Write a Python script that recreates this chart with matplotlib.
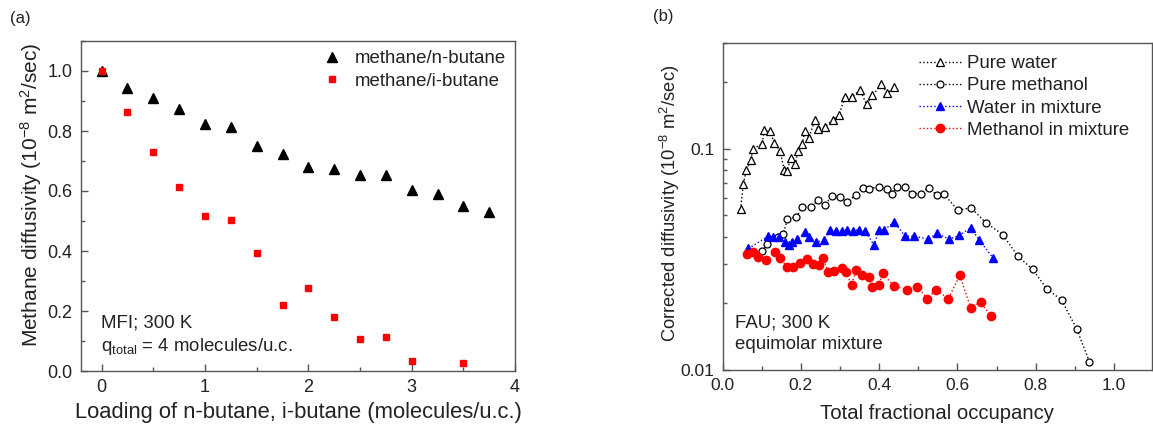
import numpy as np
import matplotlib.pyplot as plt
from matplotlib.ticker import MultipleLocator, LogLocator, NullFormatter, FixedLocator, FixedFormatter

plt.rcParams['font.family'] = ['Liberation Sans', 'DejaVu Sans']
plt.rcParams['mathtext.fontset'] = 'custom'
plt.rcParams['mathtext.rm'] = 'Liberation Sans'
plt.rcParams['mathtext.it'] = 'Liberation Sans'

TXT = '#222222'
FS = 13.4

# (a) MFI, methane diffusivity vs loading
load_n = [0, 0.25, 0.5, 0.75, 1.0, 1.25, 1.5, 1.75, 2.0, 2.25, 2.5, 2.75, 3.0, 3.25, 3.5, 3.75]
d_n = [1.0, 0.944, 0.911, 0.873, 0.823, 0.814, 0.750, 0.722, 0.679, 0.674, 0.652, 0.652,
       0.604, 0.590, 0.549, 0.529]
load_i = [0, 0.25, 0.5, 0.75, 1.0, 1.25, 1.5, 1.75, 2.0, 2.25, 2.5, 2.75, 3.0, 3.5]
d_i = [1.0, 0.865, 0.729, 0.612, 0.516, 0.504, 0.393, 0.219, 0.277, 0.179, 0.106, 0.113,
       0.035, 0.028]

# (b) FAU, corrected diffusivity vs fractional occupancy
occ_w = [0.046, 0.053, 0.061, 0.072, 0.078, 0.102, 0.106, 0.121, 0.132, 0.147, 0.158, 0.164,
         0.175, 0.185, 0.193, 0.204, 0.210, 0.221, 0.236, 0.243, 0.261, 0.283, 0.297, 0.313,
         0.331, 0.351, 0.368, 0.383, 0.406, 0.421, 0.439]
d_w = [0.0532, 0.069, 0.0798, 0.0886, 0.100, 0.1053, 0.121, 0.120, 0.1064, 0.0976, 0.0798, 0.079,
       0.0908, 0.0849, 0.0976, 0.1053, 0.120, 0.1121, 0.135, 0.123, 0.1253, 0.135, 0.1413, 0.171,
       0.171, 0.1846, 0.1585, 0.174, 0.195, 0.178, 0.1897]

occ_m = [0.102, 0.114, 0.142, 0.155, 0.166, 0.189, 0.204, 0.227, 0.244, 0.261, 0.279, 0.300,
         0.317, 0.340, 0.358, 0.374, 0.400, 0.419, 0.432, 0.445, 0.466, 0.483, 0.506, 0.527,
         0.547, 0.566, 0.601, 0.635, 0.673, 0.716, 0.754, 0.792, 0.828, 0.866, 0.905, 0.937]
d_m = [0.0345, 0.0370, 0.0400, 0.0411, 0.0480, 0.0492, 0.0546, 0.0546, 0.0585, 0.0555, 0.0610,
       0.0605, 0.0574, 0.0616, 0.0667, 0.0660, 0.0671, 0.0660, 0.0622, 0.0671, 0.0671, 0.0627,
       0.0627, 0.0667, 0.0616, 0.0622, 0.0527, 0.0540, 0.0462, 0.0409, 0.0327, 0.0285, 0.0233,
       0.0207, 0.0153, 0.0109]

occ_wmix = [0.066, 0.117, 0.129, 0.145, 0.159, 0.170, 0.178, 0.191, 0.210, 0.221, 0.239, 0.259,
            0.274, 0.289, 0.304, 0.319, 0.334, 0.348, 0.365, 0.387, 0.400, 0.412, 0.439, 0.466,
            0.489, 0.526, 0.547, 0.579, 0.605, 0.634, 0.656, 0.692]
d_wmix = [0.0354, 0.0402, 0.0399, 0.0397, 0.0379, 0.0366, 0.0379, 0.0389, 0.0418, 0.0399, 0.0379,
          0.0386, 0.0431, 0.0425, 0.0424, 0.0428, 0.0425, 0.0431, 0.0424, 0.0366, 0.0428, 0.0428,
          0.0467, 0.0402, 0.0402, 0.0390, 0.0414, 0.0390, 0.0406, 0.0439, 0.0386, 0.0319]

occ_mmix = [0.063, 0.078, 0.091, 0.112, 0.135, 0.148, 0.164, 0.181, 0.198, 0.217, 0.232, 0.247,
            0.257, 0.270, 0.285, 0.306, 0.315, 0.330, 0.341, 0.357, 0.374, 0.381, 0.399, 0.409,
            0.438, 0.470, 0.498, 0.523, 0.545, 0.577, 0.606, 0.634, 0.659, 0.686]
d_mmix = [0.0333, 0.0342, 0.0325, 0.0314, 0.0340, 0.0319, 0.0293, 0.0293, 0.0303, 0.0316, 0.0301,
          0.0298, 0.0322, 0.0276, 0.0280, 0.0288, 0.0276, 0.0243, 0.0283, 0.0268, 0.0262, 0.0238,
          0.0242, 0.0273, 0.0239, 0.0231, 0.0238, 0.0210, 0.0230, 0.0210, 0.0268, 0.0191, 0.0203,
          0.0175]

W, H = 1153, 433
fig = plt.figure(figsize=(W / 100, H / 100), dpi=100)


def box(l, t, r, b):
    return [l / W, 1 - b / H, (r - l) / W, (b - t) / H]


def style(ax, lsize):
    for s in ax.spines.values():
        s.set_color('#555555')
        s.set_linewidth(1.0)
    ax.tick_params(which='both', direction='in', top=False, right=False,
                   colors='#555555', labelcolor=TXT, labelsize=lsize, pad=6)
    ax.tick_params(which='major', length=5, width=1)
    ax.tick_params(which='minor', length=3, width=1)


# ---- panel (a)
ax1 = fig.add_axes(box(81, 41, 515, 371))
ax1.plot(load_n, d_n, ls='none', marker='^', ms=6.5, color='black', label='methane/n-butane')
ax1.plot(load_i, d_i, ls='none', marker='s', ms=5, color='#ff0000', label='methane/i-butane')
ax1.set_xlim(-0.2, 4)
ax1.set_ylim(0, 1.1)
ax1.xaxis.set_major_locator(MultipleLocator(1))
ax1.xaxis.set_minor_locator(MultipleLocator(0.5))
ax1.yaxis.set_major_locator(MultipleLocator(0.2))
ax1.yaxis.set_minor_locator(MultipleLocator(0.1))
ax1.yaxis.set_major_formatter(plt.FormatStrFormatter('%.1f'))
style(ax1, 13)
ax1.set_xlabel('Loading of n-butane, i-butane (molecules/u.c.)', fontsize=15.8, color=TXT)
ax1.set_ylabel('Methane diffusivity (10$^{-8}$ m$^2$/sec)', fontsize=15, color=TXT)
ax1.xaxis.set_label_coords(0.5, -0.093)
ax1.yaxis.set_label_coords(-0.086, 0.535)
ax1.legend(loc='upper right', frameon=False, fontsize=FS, handletextpad=0.45,
           borderaxespad=0.1, labelspacing=0.3, markerscale=1.0, handlelength=1.5,
           labelcolor=TXT)
ax1.text(0.045, 0.145, 'MFI; 300 K', transform=ax1.transAxes, fontsize=FS, color=TXT, va='center')
ax1.text(0.045, 0.075, 'q$_{\\mathrm{total}}$ = 4 molecules/u.c.', transform=ax1.transAxes,
         fontsize=FS, color=TXT, va='center')
fig.text(20 / W, 1 - 18 / H, '(a)', fontsize=12, color=TXT, ha='center', va='center')

# ---- panel (b)
ax2 = fig.add_axes(box(722.5, 43, 1152, 370))
ax2.plot(occ_w, d_w, ls=':', lw=1, color='black', marker='^', ms=5.5, mfc='white',
         mec='black', mew=0.9, label='Pure water')
ax2.plot(occ_m, d_m, ls=':', lw=1, color='black', marker='o', ms=5, mfc='white',
         mec='black', mew=0.9, label='Pure methanol')
ax2.plot(occ_wmix, d_wmix, ls=':', lw=1, color='#0000ff', marker='^', ms=6, label='Water in mixture')
ax2.plot(occ_mmix, d_mmix, ls=':', lw=1, color='#ff0000', marker='o', ms=6, label='Methanol in mixture')
ax2.set_yscale('log')
ax2.set_xlim(0, 1.097)
ax2.set_ylim(0.01, 0.3)
ax2.xaxis.set_major_locator(FixedLocator([0, 0.2, 0.4, 0.6, 0.8, 1.0]))
ax2.xaxis.set_major_formatter(plt.FormatStrFormatter('%.1f'))
ax2.xaxis.set_minor_locator(MultipleLocator(0.1))
ax2.yaxis.set_major_locator(FixedLocator([0.01, 0.1]))
ax2.yaxis.set_major_formatter(FixedFormatter(['0.01', '0.1']))
ax2.yaxis.set_minor_locator(LogLocator(base=10, subs=np.arange(2, 10)))
ax2.yaxis.set_minor_formatter(NullFormatter())
style(ax2, 12.5)
ax2.set_xlabel('Total fractional occupancy', fontsize=14.6, color=TXT)
ax2.set_ylabel('Corrected diffusivity (10$^{-8}$ m$^2$/sec)', fontsize=13.2, color=TXT)
ax2.xaxis.set_label_coords(0.5, -0.105)
ax2.yaxis.set_label_coords(-0.095, 0.51)
ax2.legend(loc='upper right', bbox_to_anchor=(0.975, 1.0), frameon=False, fontsize=FS,
           handletextpad=0.3, borderaxespad=0.25, labelspacing=0.28, handlelength=2.3,
           labelcolor=TXT)
ax2.text(0.03, 0.145, 'FAU; 300 K', transform=ax2.transAxes, fontsize=FS, color=TXT, va='center')
ax2.text(0.03, 0.078, 'equimolar mixture', transform=ax2.transAxes, fontsize=FS, color=TXT,
         va='center')
fig.text(663 / W, 1 - 17 / H, '(b)', fontsize=12, color=TXT, ha='center', va='center')

fig.savefig('out.png', dpi=100)
